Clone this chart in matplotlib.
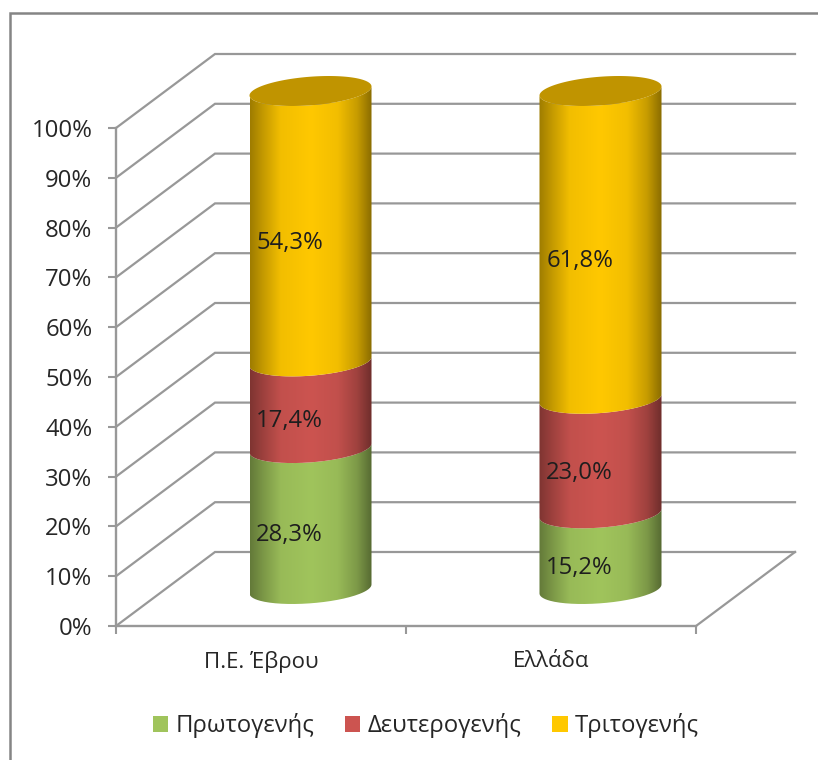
import numpy as np
import matplotlib
matplotlib.use("Agg")
import matplotlib.pyplot as plt
from matplotlib.colors import LinearSegmentedColormap
from matplotlib.lines import Line2D
from matplotlib.patches import Patch, PathPatch
from matplotlib.path import Path

categories = ["Π.Ε. Έβρου", "Ελλάδα"]
series_names = ["Πρωτογενής", "Δευτερογενής", "Τριτογενής"]
primary = [28.3, 15.2]
secondary = [17.4, 23.0]
tertiary = [54.3, 61.8]
yticks = [0, 10, 20, 30, 40, 50, 60, 70, 80, 90, 100]

W, H = 818, 760
plt.rcParams["font.family"] = ["Open Sans", "DejaVu Sans"]
TXT = "#262626"
GRID = "#989898"
fig = plt.figure(figsize=(W / 100, H / 100), dpi=100, facecolor="white")
L, R, T, B = 116, 696, 128, 626
ax = fig.add_axes([L / W, 1 - B / H, (R - L) / W, (B - T) / H], facecolor="none")
ax.set_xlim(0, 2)
ax.set_ylim(0, 100)

px_x = 2 / (R - L)
px_y = 100 / (B - T)
DX, DY = 99 * px_x, 74 * px_y


def project(x, y, depth):
    return x + depth * DX, y + depth * DY


# walls
for v in yticks:
    x1, y1 = project(0, v, 1)
    x2, _ = project(2, v, 1)
    ax.plot([0, x1, x2], [v, y1, y1], color=GRID, lw=1.6, clip_on=False, zorder=1,
            solid_joinstyle="miter")
x1, y1 = project(2, 0, 1)
ax.plot([2, x1], [0, y1], color=GRID, lw=1.6, clip_on=False, zorder=1)

# cylinders
HW, TILT, MINOR = 61 * px_x, 4.5 * px_y, 14.3 * px_y
profile = [0, .1, .25, .5, .72, .88, 1]
shade = [.62, .76, .95, 1, .95, .78, .54]
base_cols = {0: "#A0C45C", 1: "#CC5450", 2: "#FFC800"}
t_front = np.linspace(0, np.pi, 80)


def rim(cx, cy, t):
    return cx + HW * np.cos(t), cy + TILT * np.cos(t) - MINOR * np.sin(t)


def cmap_for(color):
    rgb = np.array(matplotlib.colors.to_rgb(color))
    return LinearSegmentedColormap.from_list("c", [(p, tuple(rgb * s)) for p, s in zip(profile, shade)])


grad = np.linspace(0, 1, 256)[None, :]
for i in range(len(categories)):
    cx, cy0 = project(i + 0.5, 0, 0.5)
    bottom = 0
    for k, vals in enumerate([primary, secondary, tertiary]):
        top = bottom + vals[i]
        xb, yb = rim(cx, cy0 + bottom, t_front)
        xt, yt = rim(cx, cy0 + top, t_front[::-1])
        verts = np.r_[np.c_[xb, yb], np.c_[xt, yt], [[xb[0], yb[0]]]]
        patch = PathPatch(Path(verts), transform=ax.transData, fc="none", ec="none")
        ax.add_patch(patch)
        patch.set_clip_on(False)
        im = ax.imshow(grad, extent=[cx - HW, cx + HW, cy0 - MINOR - 2, cy0 + 110],
                       aspect="auto", cmap=cmap_for(base_cols[k]), zorder=3 + k,
                       interpolation="bilinear", origin="lower")
        im.set_clip_box(fig.bbox)
        im.set_clip_path(patch)
        xm, ym = project(i + 0.5, bottom + vals[i] / 2, 0.27)
        ax.text(xm + 2 * px_x, ym + 0.5 * px_y, f"{vals[i]:.1f}%".replace(".", ","),
                ha="center", va="center", fontsize=17.2, color="#1E1E1E", zorder=10, clip_on=False)
        bottom = top
    t_all = np.linspace(0, 2 * np.pi, 160)
    xc, yc = rim(cx, cy0 + bottom, t_all)
    ax.fill(xc, yc, color="#C09400", zorder=7, clip_on=False, lw=0)
ax.set_xlim(0, 2)
ax.set_ylim(0, 100)

# axes
for s in ["top", "right"]:
    ax.spines[s].set_visible(False)
for s in ["left", "bottom"]:
    ax.spines[s].set_color(GRID)
    ax.spines[s].set_linewidth(1.7)
ax.set_yticks(yticks)
ax.set_yticklabels([f"{v}%" for v in yticks], fontsize=17.2, color=TXT)
ax.tick_params(axis="y", length=6, width=1.5, color=GRID, pad=11)
ax.set_xticks([0.5, 1.5])
ax.set_xticklabels(categories, fontsize=16, color=TXT)
ax.set_xticks([0, 1, 2], minor=True)
ax.tick_params(axis="x", which="major", length=0, pad=18)
ax.tick_params(axis="x", which="minor", length=6, width=1.5, color=GRID)

# outer frame
fig.add_artist(Line2D([9.5 / W, 9.5 / W, 1], [0, 1 - 12.5 / H, 1 - 12.5 / H], color="#858585", lw=1.8,
                      solid_joinstyle="miter"))

# legend
handles = [Patch(facecolor=base_cols[k], edgecolor="none", label=series_names[k]) for k in range(3)]
fig.legend(handles=handles, ncol=3, loc="center", bbox_to_anchor=(426 / W, 1 - 726 / H), frameon=False,
           fontsize=17.2, labelcolor=TXT, handlelength=0.63, handleheight=0.63, handletextpad=0.3,
           columnspacing=1.3)

fig.savefig("out.png", dpi=100)
